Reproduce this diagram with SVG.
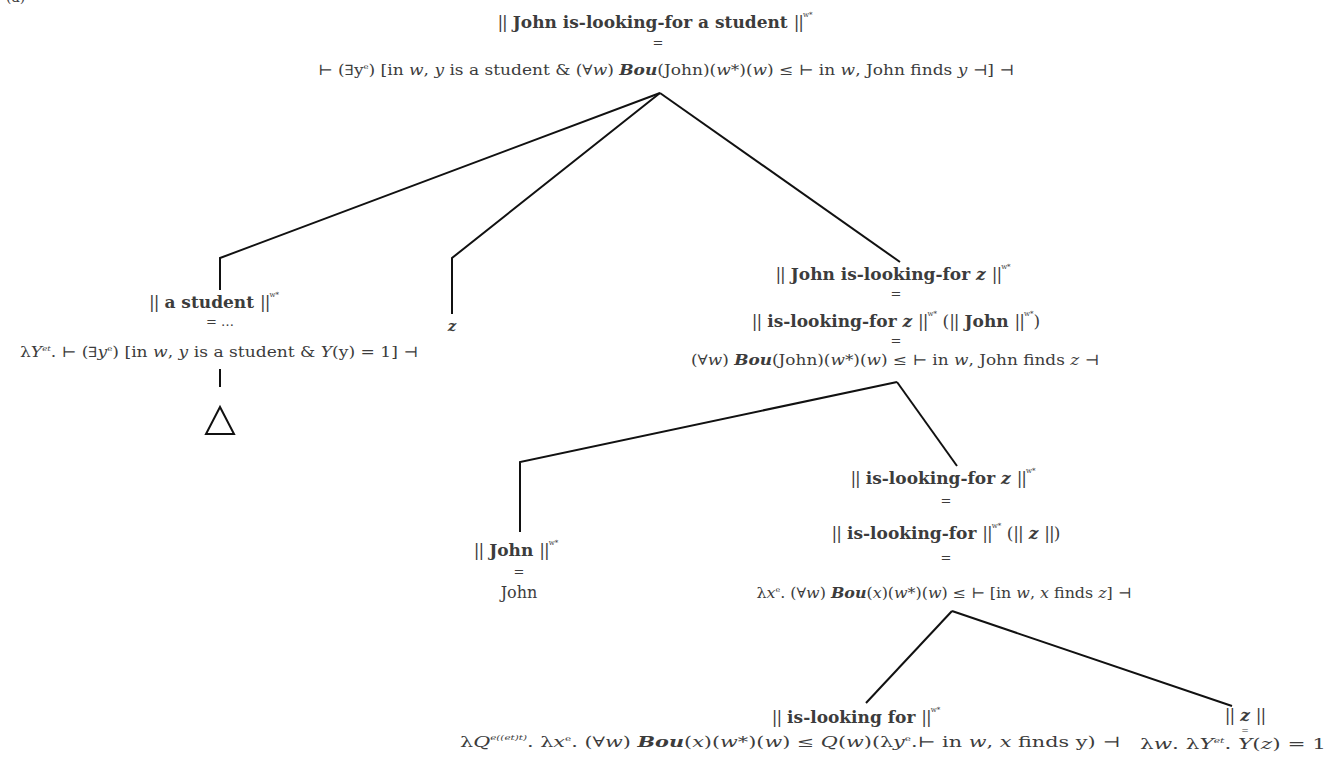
<svg xmlns="http://www.w3.org/2000/svg" width="1338" height="769" viewBox="0 0 1338 769">
<style>
text{font-family:"DejaVu Serif","Liberation Serif",serif;font-size:14px;fill:#3c3c3c;text-anchor:middle}
.bl{font-size:17px}
.b{font-weight:bold}
.i{font-style:italic}
.bi{font-weight:bold;font-style:italic}
.bar{font-weight:normal;letter-spacing:-1px}
.sup{font-size:7px;font-weight:normal}
.eq{font-size:13px}
.edge{fill:none;stroke:#111;stroke-width:2;stroke-linejoin:miter}
</style>
<rect width="1338" height="769" fill="#fff"/>
<text x="6" y="2" style="text-anchor:start;font-size:14px">(a)</text>
<g id="connectors">
<polyline class="edge" points="660,93 220,258 220,290"/>
<polyline class="edge" points="660,93 452,258 452,314"/>
<polyline class="edge" points="660,93 900,262"/>
<polyline class="edge" points="897,382 520,462 520,532"/>
<polyline class="edge" points="897,382 957,466"/>
<polyline class="edge" points="952,611 866,703"/>
<polyline class="edge" points="952,611 1232,706"/>
<line class="edge" x1="220" y1="369" x2="220" y2="387"/>
</g>
<g id="n-root">
<text class="bl" x="655" y="28"><tspan class="bar">||</tspan><tspan class="b"> John is-looking-for a student </tspan><tspan class="bar">||</tspan><tspan class="sup" dy="-11">w*</tspan></text>
<text class="eq" x="658" y="47">=</text>
<text x="666" y="75" textLength="696" lengthAdjust="spacingAndGlyphs">⊢ (∃y<tspan class="sup" dy="-6">e</tspan><tspan dy="6">) [in </tspan><tspan class="i">w</tspan>, <tspan class="i">y</tspan> is a student &amp; (∀<tspan class="i">w</tspan>) <tspan class="bi">Bou</tspan>(John)(<tspan class="i">w</tspan>*)(<tspan class="i">w</tspan>) ≤ ⊢ in <tspan class="i">w</tspan>, John finds <tspan class="i">y</tspan> ⊣] ⊣</text>
</g>
<g id="n-astudent">
<text class="bl" x="214" y="308"><tspan class="bar">||</tspan><tspan class="b"> a student </tspan><tspan class="bar">||</tspan><tspan class="sup" dy="-11">w*</tspan></text>
<text class="eq" x="220" y="326">= …</text>
<text x="219" y="357" textLength="398" lengthAdjust="spacingAndGlyphs">λ<tspan class="i">Y</tspan><tspan class="sup bi" dy="-6">et</tspan><tspan dy="6">. ⊢ (∃</tspan><tspan class="i">y</tspan><tspan class="sup" dy="-6">e</tspan><tspan dy="6">) [in </tspan><tspan class="i">w</tspan>, <tspan class="i">y</tspan> is a student &amp; <tspan class="i">Y</tspan>(y) = 1] ⊣</text>
<polygon points="220,407 206,434 234,434" fill="none" stroke="#111" stroke-width="2"/>
</g>
<g id="n-z">
<text class="bi" x="452" y="331" style="font-size:15px">z</text>
</g>
<g id="n-johnlooking">
<text class="bl" x="893" y="280"><tspan class="bar">||</tspan><tspan class="b"> John is-looking-for </tspan><tspan class="bi">z</tspan><tspan class="b"> </tspan><tspan class="bar">||</tspan><tspan class="sup" dy="-11">w*</tspan></text>
<text class="eq" x="896" y="298">=</text>
<text class="bl" x="896" y="327"><tspan class="bar">||</tspan><tspan class="b"> is-looking-for </tspan><tspan class="bi">z</tspan><tspan class="b"> </tspan><tspan class="bar">||</tspan><tspan class="sup" dy="-11">w*</tspan><tspan dy="11"> (</tspan><tspan class="bar">||</tspan><tspan class="b"> John </tspan><tspan class="bar">||</tspan><tspan class="sup" dy="-11">w*</tspan><tspan dy="11">)</tspan></text>
<text class="eq" x="896" y="345">=</text>
<text x="895" y="365" textLength="408" lengthAdjust="spacingAndGlyphs">(∀<tspan class="i">w</tspan>) <tspan class="bi">Bou</tspan>(John)(<tspan class="i">w</tspan>*)(<tspan class="i">w</tspan>) ≤ ⊢ in <tspan class="i">w</tspan>, John finds <tspan class="i">z</tspan> ⊣</text>
</g>
<g id="n-john">
<text class="bl" x="516" y="556"><tspan class="bar">||</tspan><tspan class="b"> John </tspan><tspan class="bar">||</tspan><tspan class="sup" dy="-11">w*</tspan></text>
<text class="eq" x="519" y="576">=</text>
<text x="519" y="598" style="font-size:16px">John</text>
</g>
<g id="n-lookingz">
<text class="bl" x="943" y="484"><tspan class="bar">||</tspan><tspan class="b"> is-looking-for </tspan><tspan class="bi">z</tspan><tspan class="b"> </tspan><tspan class="bar">||</tspan><tspan class="sup" dy="-11">w*</tspan></text>
<text class="eq" x="946" y="505">=</text>
<text class="bl" x="946" y="539"><tspan class="bar">||</tspan><tspan class="b"> is-looking-for </tspan><tspan class="bar">||</tspan><tspan class="sup" dy="-11">w*</tspan><tspan dy="11"> (</tspan><tspan class="bar">||</tspan><tspan class="b"> </tspan><tspan class="bi">z</tspan><tspan class="b"> </tspan><tspan class="bar">||</tspan>)</text>
<text class="eq" x="946" y="562">=</text>
<text x="944" y="598" textLength="375" lengthAdjust="spacingAndGlyphs">λ<tspan class="i">x</tspan><tspan class="sup" dy="-6">e</tspan><tspan dy="6">. (∀</tspan><tspan class="i">w</tspan>) <tspan class="bi">Bou</tspan>(<tspan class="i">x</tspan>)(<tspan class="i">w</tspan>*)(<tspan class="i">w</tspan>) ≤ ⊢ [in <tspan class="i">w</tspan>, <tspan class="i">x</tspan> finds <tspan class="i">z</tspan>] ⊣</text>
</g>
<g id="n-lookingfor">
<text class="bl" x="856" y="723"><tspan class="bar">||</tspan><tspan class="b"> is-looking for </tspan><tspan class="bar">||</tspan><tspan class="sup" dy="-11">w*</tspan></text>
<text x="790" y="747" textLength="660" lengthAdjust="spacingAndGlyphs">λ<tspan class="i">Q</tspan><tspan class="sup i" dy="-7">e((et)t)</tspan><tspan dy="7">. λ</tspan><tspan class="i">x</tspan><tspan class="sup" dy="-6">e</tspan><tspan dy="6">. (∀</tspan><tspan class="i">w</tspan>) <tspan class="bi">Bou</tspan>(<tspan class="i">x</tspan>)(<tspan class="i">w</tspan>*)(<tspan class="i">w</tspan>) ≤ <tspan class="i">Q</tspan>(<tspan class="i">w</tspan>)(λ<tspan class="i">y</tspan><tspan class="sup" dy="-6">e</tspan><tspan dy="6">.⊢ in </tspan><tspan class="i">w</tspan>, <tspan class="i">x</tspan> finds y) ⊣</text>
</g>
<g id="n-zleaf">
<text class="bl" x="1245" y="721"><tspan class="bar">||</tspan><tspan class="b"> </tspan><tspan class="bi">z</tspan><tspan class="b"> </tspan><tspan class="bar">||</tspan></text>
<text x="1245" y="734" style="font-size:9px">=</text>
<text x="1233" y="749" textLength="186" lengthAdjust="spacingAndGlyphs">λ<tspan class="i">w</tspan>. λ<tspan class="i">Y</tspan><tspan class="sup bi" dy="-6">et</tspan><tspan dy="6">. </tspan><tspan class="i">Y</tspan>(<tspan class="i">z</tspan>) = 1</text>
</g>
</svg>
